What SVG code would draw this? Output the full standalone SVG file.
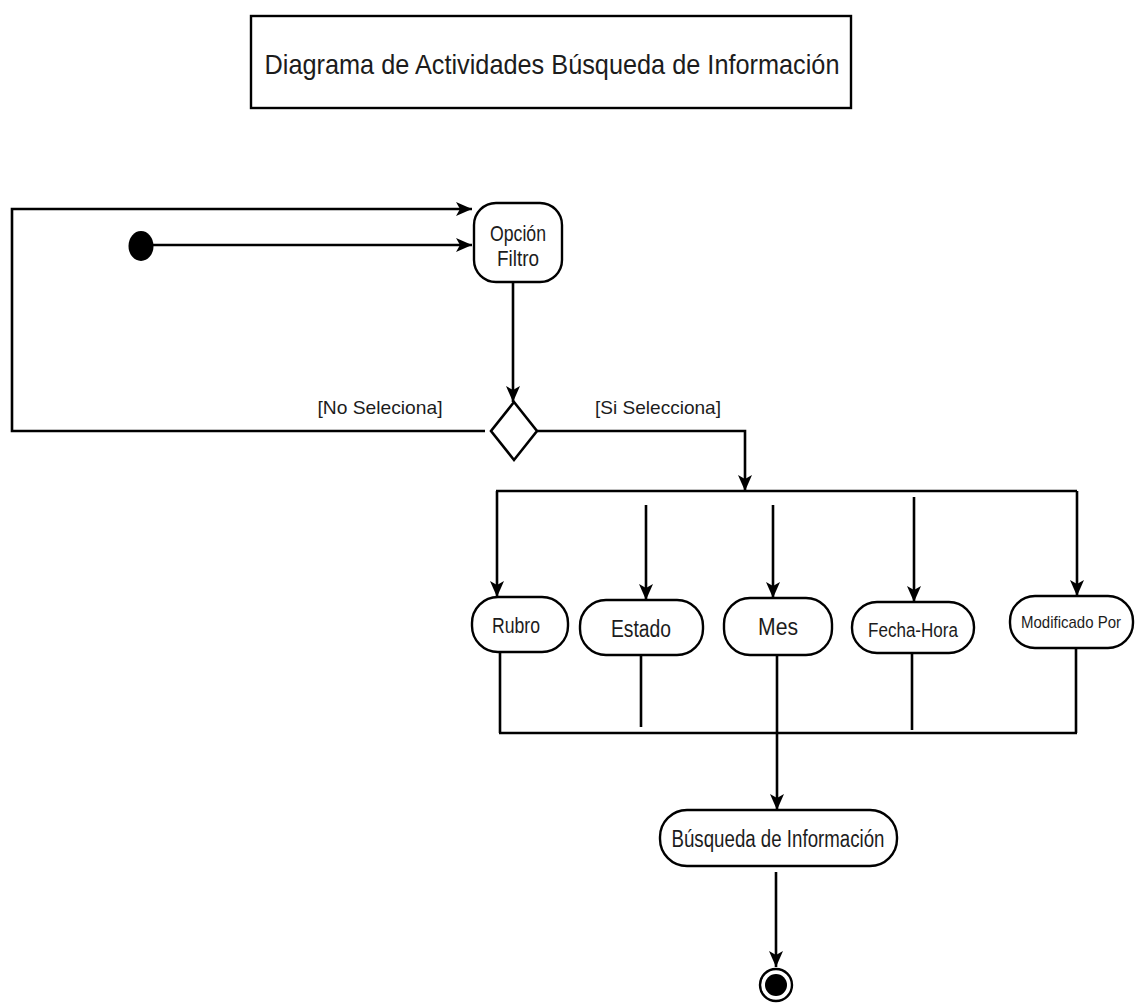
<svg xmlns="http://www.w3.org/2000/svg" width="1138" height="1008" viewBox="0 0 1138 1008">
  <style>
    .edge { fill: none; stroke: #000; stroke-width: 2.6; }
    .box { fill: #fff; stroke: #000; stroke-width: 2.4; }
    .lbl { font-family: "Liberation Sans", Arial, sans-serif; fill: #1c1c1c; text-anchor: middle; }
  </style>
  <defs>
    <marker id="arrow" viewBox="0 0 16 14" refX="16" refY="7" markerWidth="16" markerHeight="14" orient="auto" markerUnits="userSpaceOnUse">
      <path d="M0,0 L16,7 L0,14 L4,7 z" fill="#000"/>
    </marker>
  </defs>
  <rect width="1138" height="1008" fill="#fff"/>

  <!-- title frame -->
  <g id="title">
    <rect class="box" x="251" y="16" width="600" height="92"/>
    <text class="lbl" x="552" y="74" font-size="28" textLength="575" lengthAdjust="spacingAndGlyphs">Diagrama de Actividades Búsqueda de Información</text>
  </g>

  <!-- connectors -->
  <g id="connectors">
    <polyline class="edge" points="485,431 12,431 12,209 472,209" marker-end="url(#arrow)"/>
    <line class="edge" x1="153" y1="245" x2="472" y2="245" marker-end="url(#arrow)"/>
    <line class="edge" x1="513" y1="282" x2="513" y2="402" marker-end="url(#arrow)"/>
    <polyline class="edge" points="537,431 745,431 745,491" marker-end="url(#arrow)"/>
    <!-- fork bar -->
    <line class="edge" x1="496" y1="491" x2="1077" y2="491"/>
    <line class="edge" x1="497" y1="491" x2="497" y2="597" marker-end="url(#arrow)"/>
    <line class="edge" x1="646" y1="505" x2="646" y2="600" marker-end="url(#arrow)"/>
    <line class="edge" x1="773" y1="505" x2="773" y2="598" marker-end="url(#arrow)"/>
    <line class="edge" x1="914" y1="497" x2="914" y2="602" marker-end="url(#arrow)"/>
    <line class="edge" x1="1077" y1="491" x2="1077" y2="596" marker-end="url(#arrow)"/>
    <!-- join bar -->
    <line class="edge" x1="500" y1="652" x2="500" y2="733"/>
    <line class="edge" x1="641" y1="655" x2="641" y2="727"/>
    <line class="edge" x1="912" y1="653" x2="912" y2="730"/>
    <line class="edge" x1="1076" y1="648" x2="1076" y2="733"/>
    <line class="edge" x1="499" y1="733" x2="1077" y2="733"/>
    <line class="edge" x1="777" y1="655" x2="777" y2="810" marker-end="url(#arrow)"/>
    <line class="edge" x1="776" y1="872" x2="776" y2="967" marker-end="url(#arrow)"/>
  </g>

  <!-- guard labels -->
  <g id="guards">
    <text class="lbl" x="380" y="414" font-size="19" textLength="125" lengthAdjust="spacingAndGlyphs">[No Seleciona]</text>
    <text class="lbl" x="658" y="414" font-size="19" textLength="126" lengthAdjust="spacingAndGlyphs">[Si Selecciona]</text>
  </g>

  <g id="start">
    <ellipse cx="141" cy="246" rx="12.5" ry="15" fill="#000"/>
  </g>

  <g id="opcion-filtro">
    <rect class="box" x="474" y="203" width="88" height="79" rx="22"/>
    <text class="lbl" x="518" y="241" font-size="22" textLength="56" lengthAdjust="spacingAndGlyphs">Opción</text>
    <text class="lbl" x="518" y="266" font-size="22" textLength="42" lengthAdjust="spacingAndGlyphs">Filtro</text>
  </g>

  <g id="decision">
    <polygon points="514,402 537,431 514,460 491,431" fill="#fff" stroke="#000" stroke-width="2.6"/>
  </g>

  <g id="rubro">
    <rect class="box" x="472" y="597" width="96" height="55" rx="26"/>
    <text class="lbl" x="516" y="633" font-size="22" textLength="48" lengthAdjust="spacingAndGlyphs">Rubro</text>
  </g>

  <g id="estado">
    <rect class="box" x="580" y="600" width="123" height="55" rx="26"/>
    <text class="lbl" x="641" y="637" font-size="23" textLength="60" lengthAdjust="spacingAndGlyphs">Estado</text>
  </g>

  <g id="mes">
    <rect class="box" x="724" y="598" width="108" height="57" rx="26"/>
    <text class="lbl" x="778" y="635" font-size="23" textLength="40" lengthAdjust="spacingAndGlyphs">Mes</text>
  </g>

  <g id="fecha-hora">
    <rect class="box" x="852" y="602" width="122" height="51" rx="25"/>
    <text class="lbl" x="913" y="637" font-size="20" textLength="90" lengthAdjust="spacingAndGlyphs">Fecha-Hora</text>
  </g>

  <g id="modificado-por">
    <rect class="box" x="1010" y="596" width="123" height="52" rx="25"/>
    <text class="lbl" x="1071" y="628" font-size="17" textLength="100" lengthAdjust="spacingAndGlyphs">Modificado Por</text>
  </g>

  <g id="busqueda">
    <rect class="box" x="660" y="810" width="237" height="56" rx="27"/>
    <text class="lbl" x="778" y="847" font-size="23" textLength="213" lengthAdjust="spacingAndGlyphs">Búsqueda de Información</text>
  </g>

  <g id="end">
    <circle cx="776" cy="985" r="16" fill="#fff" stroke="#000" stroke-width="2.4"/>
    <circle cx="776" cy="985" r="11" fill="#000"/>
  </g>
</svg>
